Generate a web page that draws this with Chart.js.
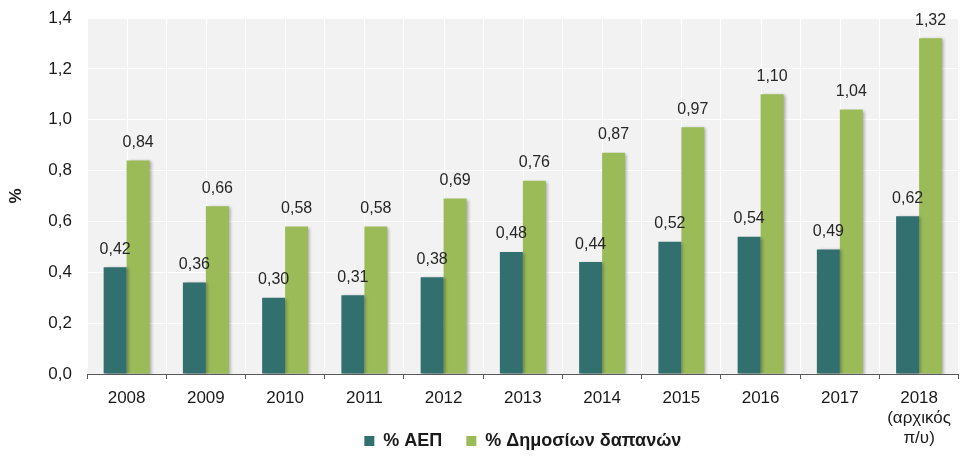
<!DOCTYPE html>
<html>
<head>
<meta charset="utf-8">
<script src="https://cdn.jsdelivr.net/npm/chart.js@4"></script>
<style>
    html, body { margin: 0; padding: 0; background: #fff; }
    #wrap { width: 961px; height: 457px; position: relative; }
</style>
</head>
<body>
<div id="wrap"><canvas id="grafica"></canvas></div>
<script>
// Datos de la gráfica
var categorias = ['2008', '2009', '2010', '2011', '2012', '2013', '2014',
    '2015', '2016', '2017', ['2018', '(αρχικός', 'π/υ)']];
var valoresAep = [0.42, 0.36, 0.30, 0.31, 0.38, 0.48, 0.44, 0.52, 0.54, 0.49, 0.62];
var valoresGasto = [0.84, 0.66, 0.58, 0.58, 0.69, 0.76, 0.87, 0.97, 1.10, 1.04, 1.32];
var yTicks = [0, 0.2, 0.4, 0.6, 0.8, 1.0, 1.2, 1.4];
var nombreAep = '% ΑΕΠ';
var nombreGasto = '% Δημοσίων δαπανών';

var fuente = '"Liberation Sans", Arial, sans-serif';

function coma(v, dec) {
    return v.toFixed(dec).replace('.', ',');
}

// Fondo gris del área de la gráfica, líneas verticales en el centro de cada
// categoría y sombra de las barras
var fondoPlugin = {
    id: 'fondo',
    afterLayout: function (chart) {
        // deja que la etiqueta de 3 líneas de 2018 no se recorte
        chart.scales.x.bottom = chart.height;
    },
    beforeDraw: function (chart) {
        var a = chart.chartArea;
        var ctx = chart.ctx;
        ctx.save();
        ctx.fillStyle = '#f2f2f2';
        ctx.fillRect(a.left, a.top, a.right - a.left, a.bottom - a.top);
        ctx.restore();
    },
    beforeDatasetsDraw: function (chart) {
        var a = chart.chartArea;
        var ctx = chart.ctx;
        var x = chart.scales.x;
        ctx.save();
        ctx.strokeStyle = '#ffffff';
        ctx.lineWidth = 1;
        for (var i = 0; i < categorias.length; i++) {
            var px = Math.round(x.getPixelForValue(i)) + 0.5;
            ctx.beginPath();
            ctx.moveTo(px, a.top);
            ctx.lineTo(px, a.bottom);
            ctx.stroke();
        }
        ctx.restore();
    },
    beforeDatasetDraw: function (chart) {
        var ctx = chart.ctx;
        ctx.save();
        ctx.shadowColor = 'rgba(0,0,0,0.3)';
        ctx.shadowOffsetX = 2;
        ctx.shadowOffsetY = 1;
        ctx.shadowBlur = 3;
    },
    afterDatasetDraw: function (chart) {
        chart.ctx.restore();
    }
};

// Etiquetas con el valor encima de cada barra
var etiquetasPlugin = {
    id: 'etiquetas',
    afterDatasetsDraw: function (chart) {
        var ctx = chart.ctx;
        ctx.save();
        ctx.font = '16px ' + fuente;
        ctx.fillStyle = '#262626';
        ctx.textAlign = 'center';
        ctx.textBaseline = 'middle';
        chart.data.datasets.forEach(function (ds, i) {
            var meta = chart.getDatasetMeta(i);
            meta.data.forEach(function (bar, j) {
                ctx.fillText(coma(ds.data[j], 2), bar.x, bar.y - 18);
            });
        });
        ctx.restore();
    }
};

var context = document.getElementById('grafica').getContext('2d');
var chart = new Chart(context, {
    type: 'bar',
    data: {
        labels: categorias,
        datasets: [{
            label: nombreAep,
            data: valoresAep,
            backgroundColor: '#31706f',
            categoryPercentage: 0.58,
            barPercentage: 1.0
        }, {
            label: nombreGasto,
            data: valoresGasto,
            backgroundColor: '#9bbb59',
            categoryPercentage: 0.58,
            barPercentage: 1.0
        }]
    },
    options: {
        responsive: true,
        maintainAspectRatio: false,
        animation: false,
        layout: { padding: { top: 18, left: 0, right: 0, bottom: -3 } },
        plugins: {
            tooltip: { enabled: false },
            legend: {
                position: 'bottom',
                fullSize: false,
                labels: {
                    boxWidth: 10,
                    boxHeight: 10,
                    padding: 24,
                    color: '#1a1a1a',
                    font: { family: fuente, size: 18, weight: 'bold' }
                }
            }
        },
        scales: {
            x: {
                offset: true,
                grid: {
                    offset: true,
                    color: '#ffffff',
                    tickColor: '#595959',
                    tickLength: 5,
                    lineWidth: 1
                },
                border: { display: true, color: '#595959', width: 1 },
                ticks: {
                    color: '#1a1a1a',
                    padding: 10,
                    maxRotation: 0,
                    autoSkip: false,
                    font: { family: fuente, size: 17, lineHeight: 1.15 }
                },
                afterFit: function (scale) { scale.height = 34; }
            },
            y: {
                min: 0,
                max: 1.4,
                afterBuildTicks: function (scale) {
                    scale.ticks = yTicks.map(function (v) { return { value: v }; });
                },
                grid: {
                    color: '#ffffff',
                    lineWidth: 1,
                    tickLength: 11,
                    tickColor: 'rgba(0,0,0,0)'
                },
                border: { display: false },
                ticks: {
                    color: '#1a1a1a',
                    padding: 4,
                    font: { family: fuente, size: 17 },
                    callback: function (v) { return coma(v, 1); }
                },
                title: {
                    display: true,
                    text: '%',
                    color: '#1a1a1a',
                    padding: { top: 6, bottom: 0 },
                    font: { family: fuente, size: 17, weight: 'bold' }
                },
                afterFit: function (scale) { scale.width = 87; }
            }
        }
    },
    plugins: [fondoPlugin, etiquetasPlugin]
});
</script>
</body>
</html>
